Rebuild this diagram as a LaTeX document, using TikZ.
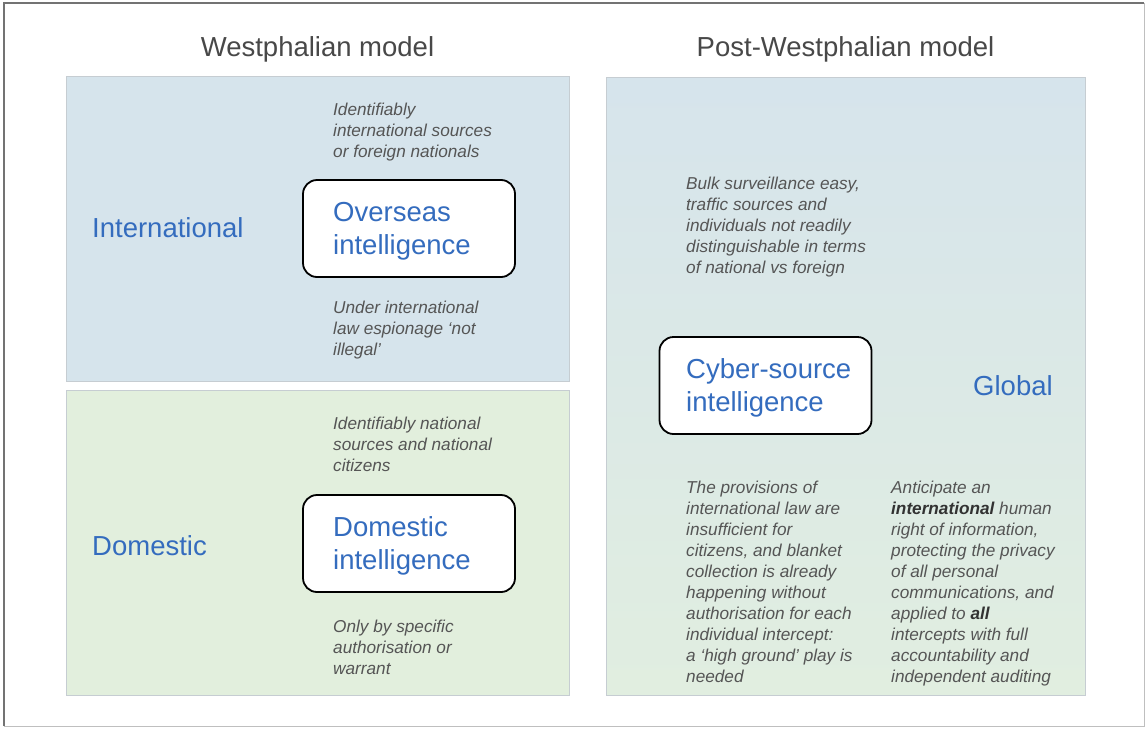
\documentclass[tikz,border=0pt]{standalone}
\usepackage{fontspec}
\setmainfont{Liberation Sans}
\definecolor{panelblue}{RGB}{214,228,236}
\definecolor{panelgreen}{RGB}{226,239,221}
\definecolor{gradbottom}{RGB}{225,238,224}
\definecolor{labelblue}{RGB}{52,108,190}
\definecolor{notegray}{RGB}{85,85,85}
\definecolor{boldgray}{RGB}{50,50,50}
\definecolor{titlegray}{RGB}{72,72,72}
\definecolor{panelline}{RGB}{198,205,210}
\newcommand{\mlines}[1]{\begin{tabular}[t]{@{}l@{}}#1\end{tabular}}
\tikzset{
  panel/.style={draw=panelline, line width=0.8pt},
  ibox/.style={draw=black, line width=1.8pt, fill=white, rounded corners=14pt,
    minimum width=212pt, minimum height=97pt, inner sep=0pt},
  lbl/.style={anchor=base west, inner sep=0pt, text=labelblue,
    font=\fontsize{27.5}{33}\selectfont},
  boxtext/.style={lbl},
  note/.style={anchor=base west, inner sep=0pt, text=notegray,
    font=\fontsize{17.2}{21.1}\selectfont\itshape},
  titletext/.style={anchor=base, inner sep=0pt, text=titlegray,
    font=\fontsize{27.5}{33}\selectfont},
}
\begin{document}
\begin{tikzpicture}[x=1pt,y=-1pt]
\useasboundingbox (0,0) rectangle (1147,728);
\fill[white] (0,0) rectangle (1147,728);
% outer frame
\draw[black!25, line width=1pt] (4,726) -- (1144,726) -- (1144,3);
\draw[black!55, line width=1.3pt] (4,726) -- (4,3) -- (1144,3);
% titles
\node[titletext] (t1) at (317.5,56) {Westphalian model};
\node[titletext] (t2) at (845.5,56) {Post-Westphalian model};
% panels
\fill[panelblue] (66,76) rectangle (569,381);
\draw[panel] (66,76) rectangle (569,381);
\fill[panelgreen] (66,390) rectangle (569,695);
\draw[panel] (66,390) rectangle (569,695);
\shade[top color=panelblue, bottom color=gradbottom] (606,77) rectangle (1085,695);
\draw[panel] (606,77) rectangle (1085,695);
% boxes
\node[ibox] (ov) at (409,228.5) {};
\node[ibox] (dm) at (409,543.5) {};
\node[ibox] (cy) at (765.5,385.5) {};
\node[boxtext] (ovt) at (333,221) {\mlines{Overseas\\intelligence}};
\node[boxtext] (dmt) at (333,536) {\mlines{Domestic\\intelligence}};
\node[boxtext] (cyt) at (686,378) {\mlines{Cyber-source\\intelligence}};
% labels
\node[lbl] (intl) at (92,237) {International};
\node[lbl] (dom) at (92,555) {Domestic};
\node[lbl] (glob) at (973,395) {Global};
% notes
\node[note] (n1) at (333,115) {\mlines{Identifiably\\international sources\\or foreign nationals}};
\node[note] (n2) at (333,313) {\mlines{Under international\\law espionage ‘not\\illegal’}};
\node[note] (n3) at (333,429) {\mlines{Identifiably national\\sources and national\\citizens}};
\node[note] (n4) at (333,632) {\mlines{Only by specific\\authorisation or\\warrant}};
\node[note] (n5) at (686,189) {\mlines{Bulk surveillance easy,\\traffic sources and\\individuals not readily\\distinguishable in terms\\of national vs foreign}};
\node[note] (n6) at (686,493) {\mlines{The provisions of\\international law are\\insufficient for\\citizens, and blanket\\collection is already\\happening without\\authorisation for each\\individual intercept:\\a ‘high ground’ play is\\needed}};
\node[note] (n7) at (891,493) {\mlines{Anticipate an\\\textcolor{boldgray}{\bfseries international} human\\right of information,\\protecting the privacy\\of all personal\\communications, and\\applied to \textcolor{boldgray}{\bfseries all}\\intercepts with full\\accountability and\\independent auditing}};
\end{tikzpicture}
\end{document}
